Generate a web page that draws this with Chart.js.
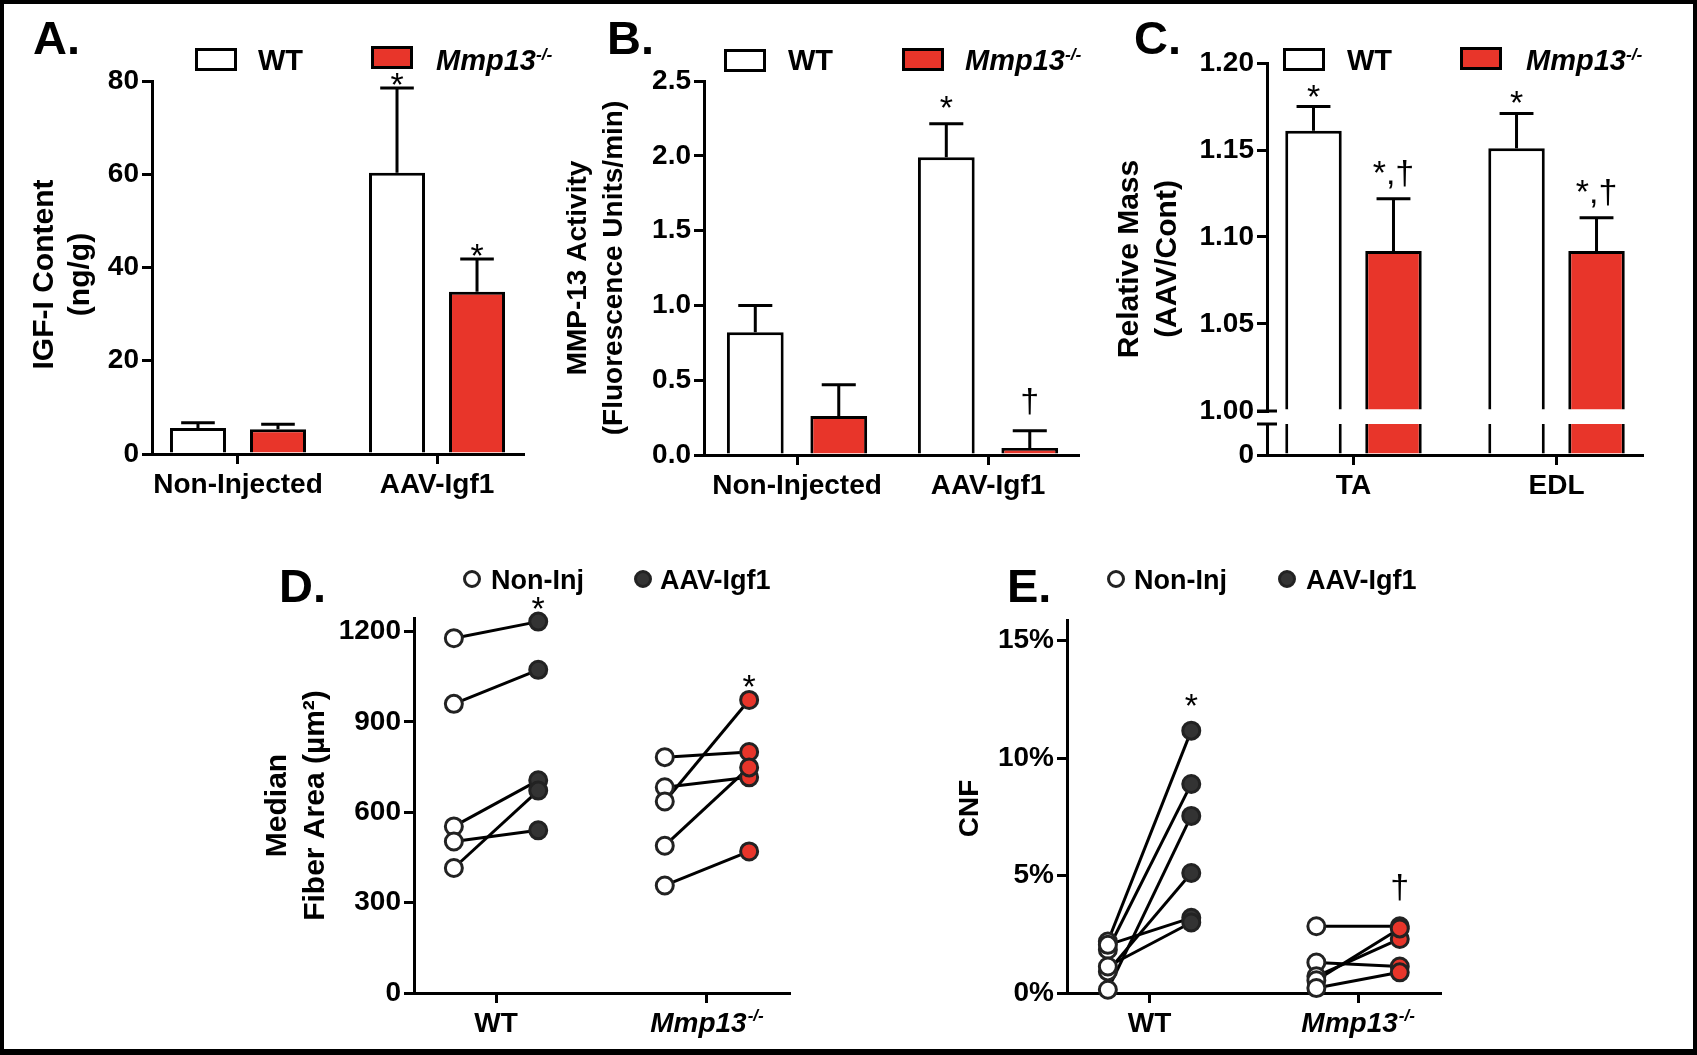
<!DOCTYPE html>
<html>
<head>
<meta charset="utf-8">
<title>IGF-I / MMP-13 figure</title>
<script src="https://cdn.jsdelivr.net/npm/chart.js@4.4.1/dist/chart.umd.min.js"></script>
<style>
  html, body { margin: 0; padding: 0; background: #fff; }
  #page { position: relative; width: 1697px; height: 1055px; overflow: hidden; background: #fff;
          font-family: "Liberation Sans", Arial, Helvetica, sans-serif; color: #000; }
  #frame { position: absolute; left: 0; top: 0; width: 1697px; height: 1055px; box-sizing: border-box;
           border: 4px solid #000; border-bottom-width: 6px; z-index: 10; pointer-events: none; }
  canvas { position: absolute; }
  .letter { position: absolute; font-weight: 700; font-size: 47px; line-height: 1; white-space: nowrap; }
  .legtxt { position: absolute; font-weight: 700; font-size: 29px; line-height: 1; white-space: nowrap; }
  .legtxt.small { font-size: 27px; }
  .sup { font-size: 0.6em; vertical-align: 0.6em; line-height: 0; }
  .swatch { position: absolute; box-sizing: border-box; border: 3px solid #000; }
  .dot { position: absolute; box-sizing: border-box; width: 18px; height: 18px; border-radius: 50%; border: 3px solid #222; }
</style>
</head>
<body>
<div id="page">
  <canvas id="cA"></canvas>
  <canvas id="cB"></canvas>
  <canvas id="cC"></canvas>
  <canvas id="cD"></canvas>
  <canvas id="cE"></canvas>

  <div class="letter" style="left:33px; top:14px;">A.</div>
  <div class="swatch" style="left:195px; top:48px; width:42px; height:23px; background:#fff;"></div>
  <div class="legtxt" style="left:258px; top:46px;">WT</div>
  <div class="swatch" style="left:371px; top:46px; width:42px; height:23px; background:#E8352A;"></div>
  <div class="legtxt" style="left:436px; top:46px;"><i>Mmp13</i><i class="sup">-/-</i></div>

  <div class="letter" style="left:607px; top:14px;">B.</div>
  <div class="swatch" style="left:724px; top:49px; width:42px; height:23px; background:#fff;"></div>
  <div class="legtxt" style="left:788px; top:46px;">WT</div>
  <div class="swatch" style="left:902px; top:48px; width:42px; height:23px; background:#E8352A;"></div>
  <div class="legtxt" style="left:965px; top:46px;"><i>Mmp13</i><i class="sup">-/-</i></div>

  <div class="letter" style="left:1134px; top:14px;">C.</div>
  <div class="swatch" style="left:1283px; top:48px; width:42px; height:23px; background:#fff;"></div>
  <div class="legtxt" style="left:1347px; top:46px;">WT</div>
  <div class="swatch" style="left:1460px; top:47px; width:42px; height:23px; background:#E8352A;"></div>
  <div class="legtxt" style="left:1526px; top:46px;"><i>Mmp13</i><i class="sup">-/-</i></div>

  <div class="letter" style="left:279px; top:562px;">D.</div>
  <div class="dot" style="left:463px; top:570px; background:#fff;"></div>
  <div class="legtxt small" style="left:491px; top:567px;">Non-Inj</div>
  <div class="dot" style="left:634px; top:570px; background:#333;"></div>
  <div class="legtxt small" style="left:660px; top:567px;">AAV-Igf1</div>

  <div class="letter" style="left:1007px; top:562px;">E.</div>
  <div class="dot" style="left:1107px; top:570px; background:#fff;"></div>
  <div class="legtxt small" style="left:1134px; top:567px;">Non-Inj</div>
  <div class="dot" style="left:1278px; top:570px; background:#333;"></div>
  <div class="legtxt small" style="left:1306px; top:567px;">AAV-Igf1</div>

  <div id="frame"></div>
</div>

<script>
// ================= DATA =================
// Panel A - IGF-I content (ng/g)
const barCategories = ['Non-Injected', 'AAV-Igf1'];
const igfWT      = [5.6, 60.3];
const igfWTErr   = [1.1, 18.2];
const igfKO      = [5.3, 34.8];
const igfKOErr   = [1.1, 7.0];
const igfWTMarks = ['', '*'];
const igfKOMarks = ['', '*'];
const igfTicks   = [0, 20, 40, 60, 80];

// Panel B - MMP-13 activity (fluorescence units/min)
const mmpWT      = [0.82, 1.99];
const mmpWTErr   = [0.18, 0.225];
const mmpKO      = [0.26, 0.047];
const mmpKOErr   = [0.21, 0.115];
const mmpWTMarks = ['', '*'];
const mmpKOMarks = ['', '\u2020'];
const mmpTicks   = [0, 0.5, 1.0, 1.5, 2.0, 2.5];

// Panel C - relative mass (AAV/Cont)
const muscleCategories = ['TA', 'EDL'];
const massWT      = [1.161, 1.151];
const massWTErr   = [0.014, 0.020];
const massKO      = [1.092, 1.092];
const massKOErr   = [0.030, 0.019];
const massWTMarks = ['*', '*'];
const massKOMarks = ['*,\u2020', '*,\u2020'];
const massTicks    = [1.00, 1.05, 1.10, 1.15, 1.20];
const massLowTicks = [0];

// Panel D - median fiber area (um^2), paired Non-Inj -> AAV-Igf1
const genotypeLabels = ['WT', 'Mmp13^-/-'];
const fiberWTNonInj = [1178, 960, 553, 503, 415];
const fiberWTAAV    = [1233, 1073, 706, 540, 672];
const fiberKONonInj = [783, 683, 636, 489, 357];
const fiberKOAAV    = [800, 716, 973, 749, 470];
const fiberMarks    = ['*', '*'];
const fiberTicks    = [0, 300, 600, 900, 1200];

// Panel E - CNF (%), paired Non-Inj -> AAV-Igf1
const cnfWTNonInj = [2.19, 1.84, 0.14, 0.92, 2.05, 1.13];
const cnfWTAAV    = [11.17, 8.90, 7.54, 5.11, 3.20, 3.00];
const cnfKONonInj = [2.84, 1.30, 0.71, 0.54, 0.21];
const cnfKOAAV    = [2.84, 1.13, 2.30, 2.75, 0.88];
const cnfMarks    = ['*', '\u2020'];
const cnfTicks    = [0, 5, 10, 15];

// ================= STYLE / LAYOUT =================
const FONT = '"Liberation Sans", Arial, Helvetica, sans-serif';
const RED = '#E8352A';
const DARK = '#333333';
const X_H = 50;            // height reserved for x axis box
const PAIR_OFFSET = 0.2;   // horizontal offset of Non-Inj / AAV columns in D, E
const LAYOUT = {
  A: { canvas: [0, 0, 560, 520],    axisLeft: 152,  top: 81,  right: 523,  bottom: 454, xMin: 0.568, xMax: 2.432, cp: 0.804, bp: 0.70, titleX: [45, 81],  titleSize: 30, titleDy: 7, markGap: 3 },
  B: { canvas: [540, 0, 560, 520],  axisLeft: 704,  top: 81,  right: 1078, bottom: 455, xMin: 0.513, xMax: 2.471, cp: 0.874, bp: 0.68, titleX: [578, 614], titleSize: 28, titleDy: 0, markGap: 16 },
  C: { canvas: [1100, 0, 597, 520], axisLeft: 1267, top: 63,  right: 1642, bottom: 455, xMin: 0.574, xMax: 2.421, cp: 0.788, bp: 0.706, titleX: [1130, 1168], titleSize: 30, titleDy: 0, markGap: 10,
       weights: { high: 348, gap: 13, low: 31 } },
  D: { canvas: [240, 540, 580, 515], axisLeft: 414, top: 618, right: 789, bottom: 993, xMin: 0.611, xMax: 2.389, titleX: [278, 316], titleSize: 30, titleDy: 0, markGap: 13 },
  E: { canvas: [930, 540, 560, 515], axisLeft: 1067, top: 620, right: 1440, bottom: 993, xMin: 0.604, xMax: 2.393, titleX: [970], titleSize: 28, titleDy: 2, markGap: 25 }
};

Chart.defaults.font.family = FONT;
Chart.defaults.color = '#000';

// ================= HELPERS =================
function setupCanvas(id, L) {
  const cv = document.getElementById(id);
  const [l, t, w, h] = L.canvas;
  cv.width = w; cv.height = h;
  cv.style.left = l + 'px'; cv.style.top = t + 'px';
  cv.style.width = w + 'px'; cv.style.height = h + 'px';
  return cv;
}
function padding(L) {
  const [l, t, w, h] = L.canvas;
  return { left: 0, top: L.top - t, right: l + w - L.right, bottom: t + h - L.bottom - X_H };
}
function xAxis(L) {
  return {
    type: 'linear', position: 'bottom', min: L.xMin, max: L.xMax, offset: false,
    afterBuildTicks: s => { s.ticks = [{ value: 1 }, { value: 2 }]; },
    afterFit: s => { s.height = X_H; },
    border: { display: true, color: '#000', width: 3 },
    grid: { display: true, drawOnChartArea: false, drawTicks: true, tickLength: 10, color: '#000', lineWidth: 3, offset: false },
    ticks: { display: false }
  };
}
function yAxis(L, tickValues, fmt, min, max, extra) {
  return Object.assign({
    type: 'linear', position: 'left', min: min, max: max, stacked: false,
    afterBuildTicks: s => { s.ticks = tickValues.map(v => ({ value: v })); },
    afterFit: s => { s.width = L.axisLeft - L.canvas[0]; },
    border: { display: true, color: '#000', width: 3 },
    grid: { display: true, drawOnChartArea: false, drawTicks: true, tickLength: 10, color: '#000', lineWidth: 3 },
    ticks: { display: true, padding: 3, color: '#000', autoSkip: false, font: { size: 28, weight: 'bold' }, callback: v => fmt(v) }
  }, extra || {});
}
function drawRichLabel(ctx, label, cx, baseline, size) {
  const parts = label.split('^');
  const main = parts[0], sup = parts[1];
  const italic = sup !== undefined ? 'italic ' : '';
  const f1 = italic + 'bold ' + size + 'px ' + FONT;
  const f2 = italic + 'bold ' + Math.round(size * 0.6) + 'px ' + FONT;
  ctx.save();
  ctx.fillStyle = '#000'; ctx.textAlign = 'left'; ctx.textBaseline = 'alphabetic';
  ctx.font = f1; const w1 = ctx.measureText(main).width;
  let w2 = 0;
  if (sup) { ctx.font = f2; w2 = ctx.measureText(sup).width + 1; }
  const x0 = cx - (w1 + w2) / 2;
  ctx.font = f1; ctx.fillText(main, x0, baseline);
  if (sup) { ctx.font = f2; ctx.fillText(sup, x0 + w1 + 1, baseline - size * 0.4); }
  ctx.restore();
}
function drawMark(ctx, text, x, inkBottom) {
  ctx.save();
  ctx.font = '34px ' + FONT; ctx.fillStyle = '#000';
  ctx.textAlign = 'center'; ctx.textBaseline = 'alphabetic';
  const m = ctx.measureText(text);
  ctx.fillText(text, x, inkBottom - m.actualBoundingBoxDescent);
  ctx.restore();
}

// ================= PLUGINS =================
const xLabelsPlugin = {
  id: 'xLabels',
  afterDraw(chart, args, o) {
    const xs = chart.scales.x;
    o.labels.forEach((lab, i) => {
      drawRichLabel(chart.ctx, lab, xs.getPixelForValue(i + 1), chart.chartArea.bottom + 39, 28);
    });
  }
};
const yTitlePlugin = {
  id: 'yTitle',
  afterDraw(chart, args, o) {
    const ctx = chart.ctx, ca = chart.chartArea;
    const cy = (ca.top + ca.bottom) / 2 + (o.dy || 0);
    ctx.save();
    ctx.font = 'bold ' + o.size + 'px ' + FONT; ctx.fillStyle = '#000';
    ctx.textAlign = 'center'; ctx.textBaseline = 'middle';
    o.lines.forEach((t, i) => {
      ctx.save(); ctx.translate(o.x[i], cy); ctx.rotate(-Math.PI / 2); ctx.fillText(t, 0, 0); ctx.restore();
    });
    ctx.restore();
  }
};
const errorBarsPlugin = {
  id: 'errorBars',
  afterDatasetsDraw(chart, args, o) {
    const ctx = chart.ctx;
    o.series.forEach(s => {
      const meta = chart.getDatasetMeta(s.dataset);
      const ys = chart.scales[meta.yAxisID];
      meta.data.forEach((bar, i) => {
        const x = bar.x;
        const y0 = ys.getPixelForValue(s.values[i]);
        const y1 = ys.getPixelForValue(s.values[i] + s.errors[i]);
        const half = bar.width * 0.3;
        ctx.save();
        ctx.strokeStyle = '#000'; ctx.lineWidth = 3;
        ctx.beginPath();
        ctx.moveTo(x, y0); ctx.lineTo(x, y1);
        ctx.moveTo(x - half, y1); ctx.lineTo(x + half, y1);
        ctx.stroke();
        ctx.restore();
        if (s.marks[i]) drawMark(ctx, s.marks[i], x, y1 - o.gap);
      });
    });
  }
};
const pairMarksPlugin = {
  id: 'pairMarks',
  afterDatasetsDraw(chart, args, o) {
    const xs = chart.scales.x, ys = chart.scales.y;
    o.groups.forEach(g => {
      const top = Math.max.apply(null, g.values);
      drawMark(chart.ctx, g.mark, xs.getPixelForValue(g.x), ys.getPixelForValue(top) - o.gap);
    });
  }
};
const axisBreakPlugin = {
  id: 'axisBreak',
  afterDraw(chart) {
    const ctx = chart.ctx, hi = chart.scales.yHigh, lo = chart.scales.yLow;
    const ax = chart.chartArea.left;
    ctx.save();
    ctx.strokeStyle = '#000'; ctx.lineWidth = 3;
    ctx.beginPath();
    ctx.moveTo(ax - 10, hi.bottom); ctx.lineTo(ax + 10, hi.bottom);
    ctx.moveTo(ax - 10, lo.top); ctx.lineTo(ax + 10, lo.top);
    ctx.stroke();
    ctx.restore();
  }
};

const baseOptions = (L) => ({
  responsive: false, animation: false, devicePixelRatio: 1,
  layout: { padding: padding(L) },
  events: []
});
const titleOpts = (L, lines) => ({ lines: lines, x: L.titleX.map(v => v - L.canvas[0]), size: L.titleSize, dy: L.titleDy });

// ================= BAR CHARTS (A, B) =================
function barChart(id, L, cats, wt, wtErr, wtMarks, ko, koErr, koMarks, ticks, fmt, yMax, titleLines) {
  const cv = setupCanvas(id, L);
  return new Chart(cv, {
    type: 'bar',
    data: {
      datasets: [
        { label: 'WT', data: wt.map((v, i) => ({ x: i + 1, y: v })), stack: 'wt',
          backgroundColor: '#fff', borderColor: '#000', borderWidth: 3, borderSkipped: 'start' },
        { label: 'Mmp13-/-', data: ko.map((v, i) => ({ x: i + 1, y: v })), stack: 'ko',
          backgroundColor: RED, borderColor: '#000', borderWidth: 3, borderSkipped: 'start' }
      ]
    },
    options: Object.assign(baseOptions(L), {
      datasets: { bar: { categoryPercentage: L.cp, barPercentage: L.bp } },
      scales: { x: xAxis(L), y: yAxis(L, ticks, fmt, 0, yMax) },
      plugins: {
        legend: { display: false }, tooltip: { enabled: false },
        xLabels: { labels: cats },
        yTitle: titleOpts(L, titleLines),
        errorBars: { gap: L.markGap, series: [
          { dataset: 0, values: wt, errors: wtErr, marks: wtMarks },
          { dataset: 1, values: ko, errors: koErr, marks: koMarks } ] }
      }
    }),
    plugins: [errorBarsPlugin, xLabelsPlugin, yTitlePlugin]
  });
}

barChart('cA', LAYOUT.A, barCategories, igfWT, igfWTErr, igfWTMarks, igfKO, igfKOErr, igfKOMarks,
         igfTicks, v => String(v), 80, ['IGF-I Content', '(ng/g)']);
barChart('cB', LAYOUT.B, barCategories, mmpWT, mmpWTErr, mmpWTMarks, mmpKO, mmpKOErr, mmpKOMarks,
         mmpTicks, v => v.toFixed(1), 2.5, ['MMP-13 Activity', '(Fluorescence Units/min)']);

// ================= BROKEN-AXIS BAR CHART (C) =================
(function () {
  const L = LAYOUT.C;
  const cv = setupCanvas('cC', L);
  const wtStyle = { backgroundColor: '#fff', borderColor: '#000', borderWidth: 3 };
  const koStyle = { backgroundColor: RED, borderColor: '#000', borderWidth: 3 };
  const pts = arr => arr.map((v, i) => ({ x: i + 1, y: v }));
  new Chart(cv, {
    type: 'bar',
    data: {
      datasets: [
        Object.assign({ label: 'WT', data: pts(massWT), yAxisID: 'yHigh', stack: 'wt', base: 1.0, borderSkipped: 'start' }, wtStyle),
        Object.assign({ label: 'Mmp13-/-', data: pts(massKO), yAxisID: 'yHigh', stack: 'ko', base: 1.0, borderSkipped: 'start' }, koStyle),
        Object.assign({ label: 'WT low', data: pts(massWT), yAxisID: 'yLow', stack: 'wt', borderSkipped: 'start' }, wtStyle),
        Object.assign({ label: 'KO low', data: pts(massKO), yAxisID: 'yLow', stack: 'ko', borderSkipped: 'start' }, koStyle)
      ]
    },
    options: Object.assign(baseOptions(L), {
      datasets: { bar: { categoryPercentage: L.cp, barPercentage: L.bp } },
      scales: {
        x: xAxis(L),
        yLow: yAxis(L, massLowTicks, v => String(v), 0, 0.1, { stack: 'mass', stackWeight: L.weights.low, clip: true }),
        yGap: { type: 'linear', position: 'left', stack: 'mass', stackWeight: L.weights.gap,
                afterFit: s => { s.width = L.axisLeft - L.canvas[0]; },
                border: { display: false }, grid: { display: false }, ticks: { display: false } },
        yHigh: yAxis(L, massTicks, v => v.toFixed(2), 1.0, 1.2, { stack: 'mass', stackWeight: L.weights.high, clip: true })
      },
      plugins: {
        legend: { display: false }, tooltip: { enabled: false },
        xLabels: { labels: muscleCategories },
        yTitle: titleOpts(L, ['Relative Mass', '(AAV/Cont)']),
        errorBars: { gap: L.markGap, series: [
          { dataset: 0, values: massWT, errors: massWTErr, marks: massWTMarks },
          { dataset: 1, values: massKO, errors: massKOErr, marks: massKOMarks } ] }
      }
    }),
    plugins: [errorBarsPlugin, xLabelsPlugin, yTitlePlugin, axisBreakPlugin]
  });
})();

// ================= PAIRED CHARTS (D, E) =================
function pairedChart(id, L, groups, ticks, fmt, yMax, titleLines, marks) {
  const cv = setupCanvas(id, L);
  const datasets = [];
  groups.forEach((g, gi) => {
    const gx = gi + 1;
    datasets.push({ type: 'line', showLine: false, order: 0, clip: false,
      data: g.non.map(v => ({ x: gx - PAIR_OFFSET, y: v })),
      pointRadius: 8.5, pointBorderWidth: 3, pointBackgroundColor: '#fff', pointBorderColor: '#222' });
    datasets.push({ type: 'line', showLine: false, order: 0, clip: false,
      data: g.aav.map(v => ({ x: gx + PAIR_OFFSET, y: v })),
      pointRadius: 8.5, pointBorderWidth: 3, pointBackgroundColor: g.color, pointBorderColor: '#222' });
    g.non.forEach((v, i) => {
      datasets.push({ type: 'line', order: 1, clip: false, tension: 0, fill: false,
        data: [{ x: gx - PAIR_OFFSET, y: v }, { x: gx + PAIR_OFFSET, y: g.aav[i] }],
        borderColor: '#000', borderWidth: 3, pointRadius: 0 });
    });
  });
  return new Chart(cv, {
    type: 'line',
    data: { datasets: datasets },
    options: Object.assign(baseOptions(L), {
      scales: { x: xAxis(L), y: yAxis(L, ticks, fmt, 0, yMax) },
      plugins: {
        legend: { display: false }, tooltip: { enabled: false },
        xLabels: { labels: genotypeLabels },
        yTitle: titleOpts(L, titleLines),
        pairMarks: { gap: L.markGap, groups: groups.map((g, gi) => ({ x: gi + 1 + PAIR_OFFSET, values: g.aav, mark: marks[gi] })) }
      }
    }),
    plugins: [pairMarksPlugin, xLabelsPlugin, yTitlePlugin]
  });
}

pairedChart('cD', LAYOUT.D,
  [ { non: fiberWTNonInj, aav: fiberWTAAV, color: DARK },
    { non: fiberKONonInj, aav: fiberKOAAV, color: RED } ],
  fiberTicks, v => String(v), 1245, ['Median', 'Fiber Area (\u00B5m\u00B2)'], fiberMarks);

pairedChart('cE', LAYOUT.E,
  [ { non: cnfWTNonInj, aav: cnfWTAAV, color: DARK },
    { non: cnfKONonInj, aav: cnfKOAAV, color: RED } ],
  cnfTicks, v => v + '%', 15.88, ['CNF'], cnfMarks);
</script>
</body>
</html>
